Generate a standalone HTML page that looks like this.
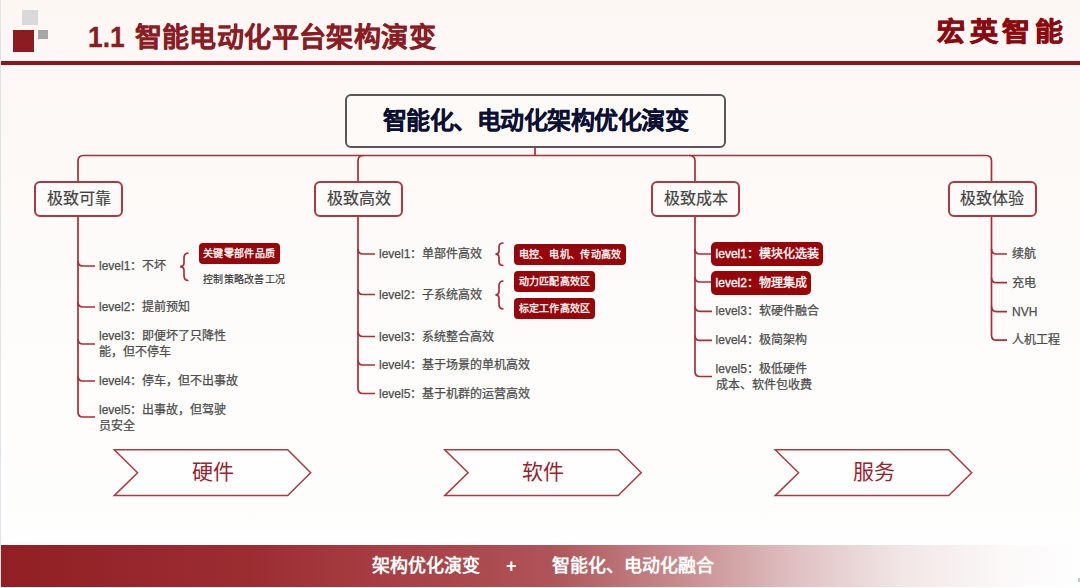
<!DOCTYPE html>
<html lang="zh-CN"><head><meta charset="utf-8">
<style>
*{margin:0;padding:0;box-sizing:border-box}
html,body{width:1080px;height:588px;overflow:hidden}
body{position:relative;font-family:"Liberation Sans",sans-serif;background:linear-gradient(to bottom,#fdf7f4 0px,#fdf9f7 150px,#fdfbf9 250px,#fefdfc 420px,#fefefe 588px)}
.a{position:absolute;white-space:nowrap}
.strip{left:0;top:0;width:1px;height:588px;background:#dfe2e6}
.sq{position:absolute}
.title{left:88px;top:19px;font-size:27px;line-height:36px;font-weight:bold;color:#8c1c24;letter-spacing:0.4px;-webkit-text-stroke:0.3px #8c1c24}
.title .n{display:inline-block;font-size:30px;transform:scaleX(0.88);transform-origin:0 50%;margin-right:-3px;letter-spacing:0}
.brand{left:937px;top:13.5px;transform:scaleY(0.93);transform-origin:50% 50%;font-size:28px;line-height:38px;font-weight:bold;color:#8a0a10;letter-spacing:4.7px;-webkit-text-stroke:0.8px #8a0a10}
.rule{left:1px;top:61px;width:1079px;height:3.6px;background:#8e171d}
.main{left:345px;top:94px;width:380.5px;height:54px;border:2px solid #585858;border-radius:6px;background:#fdfaf8;font-size:24px;letter-spacing:-0.5px;line-height:50px;font-weight:bold;color:#0c1033;-webkit-text-stroke:0.25px #0c1033;text-align:center}
.cat{top:180.5px;width:89px;height:36.5px;border:2px solid #ac3841;border-radius:6px;background:#fdfbf9;font-size:16px;line-height:32px;color:#444;text-align:center;-webkit-text-stroke:0.2px #444}
.lv{font-size:12px;line-height:16px;color:#4d4d4d;-webkit-text-stroke:0.25px #4d4d4d}
.pill{background:#980508;color:#fff;border-radius:4px;font-size:10px;letter-spacing:0.3px;line-height:21px;padding:0 4.5px;-webkit-text-stroke:0.3px #fff}
.pill2{background:#980508;color:#fff;border-radius:5px;font-size:12px;line-height:24px;padding:0 4.2px;-webkit-text-stroke:0.35px #fff}
.small{font-size:10px;letter-spacing:0.3px;line-height:14px;color:#333;-webkit-text-stroke:0.15px #333}
.chev{font-size:21px;line-height:26px;color:#952630;text-align:center;width:196px}
.banner{left:1px;top:545px;width:1079px;height:42px;background:linear-gradient(to right,#911f24 0px,#9b2d31 250px,#a84045 400px,#ae5458 550px,#b76a6e 600px,#cc9597 700px,#e0c3c5 800px,#f2e6e6 900px,#fbf8f8 1000px,#fefefe 1080px)}
.btxt{top:545px;font-size:18px;line-height:42px;font-weight:bold;color:#fff}
</style></head><body>
<div class="a strip"></div>
<div class="sq" style="left:22px;top:10px;width:16px;height:15px;background:#d9d9d9"></div>
<div class="sq" style="left:13px;top:30px;width:21px;height:21.5px;background:#8c1c22"></div>
<div class="sq" style="left:38px;top:30px;width:10px;height:9px;background:#a6a6a6"></div>
<div class="a title"><span class="n">1.1</span> 智能电动化平台架构演变</div>
<div class="a brand">宏英智能</div>
<div class="a rule"></div>

<svg class="a" style="left:0;top:0" width="1080" height="588" viewBox="0 0 1080 588">
<g fill="none" stroke="#a92e36" stroke-width="1.7">
<!-- top connector -->
<path d="M535 148 V155.5"/>
<path d="M78 181 V161 Q78 155.5 83.5 155.5 H986 Q991.5 155.5 991.5 161 V181"/>
<path d="M358 181 V161 Q358 155.5 363.5 155.5"/>

<path d="M695 181 V161 Q695 155.5 689.5 155.5"/>

<!-- col1 -->
<path d="M78 216 V412 Q78 417 83 417 H95"/>
<path d="M95 266 H83 Q78 266 78 261"/>
<path d="M95 307 H83 Q78 307 78 302"/>
<path d="M95 344 H83 Q78 344 78 339"/>
<path d="M95 381 H83 Q78 381 78 376"/>
<!-- col2 -->
<path d="M358 216 V388.5 Q358 393.5 363 393.5 H375"/>
<path d="M375 254 H363 Q358 254 358 249"/>
<path d="M375 294.5 H363 Q358 294.5 358 289.5"/>
<path d="M375 336.5 H363 Q358 336.5 358 331.5"/>
<path d="M375 365 H363 Q358 365 358 360"/>
<!-- col3 -->
<path d="M695 216 V371.5 Q695 376.5 700 376.5 H712"/>
<path d="M712 254 H700 Q695 254 695 249"/>
<path d="M712 282 H700 Q695 282 695 277"/>
<path d="M712 311.3 H700 Q695 311.3 695 306.3"/>
<path d="M712 340.4 H700 Q695 340.4 695 335.4"/>
<!-- col4 -->
<path d="M991.5 216 V335.2 Q991.5 340.2 996.5 340.2 H1007"/>
<path d="M1007 254 H996.5 Q991.5 254 991.5 249"/>
<path d="M1007 282.7 H996.5 Q991.5 282.7 991.5 277.7"/>
<path d="M1007 311.6 H996.5 Q991.5 311.6 991.5 306.6"/>
<!-- braces -->
<path d="M188.5 253 Q184 253 184 258 V263 Q184 266.5 180 266.7 Q184 267 184 270.5 V275.5 Q184 280.5 188.5 280.5"/>
<path d="M503.5 243 Q499 243 499 247 V251 Q499 254 495.5 254.2 Q499 254.4 499 257.5 V261.5 Q499 265.5 503.5 265.5"/>
<path d="M503.5 281 Q499 281 499 286 V291 Q499 294.7 495.5 294.9 Q499 295.1 499 298.8 V304 Q499 309 503.5 309"/>
</g>
<g fill="#fefefe" stroke="#ad3a42" stroke-width="1.5">
<path d="M114.2 449.8 H287.7 L310.7 472.7 L287.7 495.6 H114.2 L137.6 472.7 Z"/>
<path d="M444.7 449.8 H618.2 L641.2 472.7 L618.2 495.6 H444.7 L468.1 472.7 Z"/>
<path d="M775.2 449.8 H948.7 L971.7 472.7 L948.7 495.6 H775.2 L798.6 472.7 Z"/>
</g>
</svg>

<div class="a main">智能化、电动化架构优化演变</div>
<div class="a cat" style="left:34px">极致可靠</div>
<div class="a cat" style="left:314px">极致高效</div>
<div class="a cat" style="left:651px">极致成本</div>
<div class="a cat" style="left:947.5px">极致体验</div>

<!-- col1 -->
<div class="a lv" style="left:99px;top:258px">level1：不坏</div>
<div class="a pill" style="left:198.6px;top:242.5px">关键零部件品质</div>
<div class="a small" style="left:203px;top:272.5px">控制策略改善工况</div>
<div class="a lv" style="left:99px;top:299px">level2：提前预知</div>
<div class="a lv" style="left:99px;top:328px">level3：即便坏了只降性<br>能，但不停车</div>
<div class="a lv" style="left:99px;top:373px">level4：停车，但不出事故</div>
<div class="a lv" style="left:99px;top:401.5px">level5：出事故，但驾驶<br>员安全</div>

<!-- col2 -->
<div class="a lv" style="left:379px;top:246px">level1：单部件高效</div>
<div class="a pill" style="left:514px;top:243.6px">电控、电机、传动高效</div>
<div class="a lv" style="left:379px;top:286.5px">level2：子系统高效</div>
<div class="a pill" style="left:514px;top:271.3px">动力匹配高效区</div>
<div class="a pill" style="left:514px;top:298px">标定工作高效区</div>
<div class="a lv" style="left:379px;top:328.5px">level3：系统整合高效</div>
<div class="a lv" style="left:379px;top:357px">level4：基于场景的单机高效</div>
<div class="a lv" style="left:379px;top:385.5px">level5：基于机群的运营高效</div>

<!-- col3 -->
<div class="a pill2" style="left:711.4px;top:242.2px">level1：模块化选装</div>
<div class="a pill2" style="left:711.4px;top:270.8px">level2：物理集成</div>
<div class="a lv" style="left:715.6px;top:303.3px">level3：软硬件融合</div>
<div class="a lv" style="left:715.6px;top:332.4px">level4：极简架构</div>
<div class="a lv" style="left:715.6px;top:361px">level5：极低硬件<br>成本、软件包收费</div>

<!-- col4 -->
<div class="a lv" style="left:1012px;top:246px">续航</div>
<div class="a lv" style="left:1012px;top:274.7px">充电</div>
<div class="a lv" style="left:1012px;top:303.6px">NVH</div>
<div class="a lv" style="left:1012px;top:332.2px">人机工程</div>

<div class="a chev" style="left:114.5px;top:459px">硬件</div>
<div class="a chev" style="left:445px;top:459px">软件</div>
<div class="a chev" style="left:775.5px;top:459px">服务</div>

<div class="a banner"></div>
<div class="a btxt" style="left:372px">架构优化演变</div>
<div class="a btxt" style="left:506px">+</div>
<div class="a btxt" style="left:552px">智能化、电动化融合</div>
<div class="a" style="left:1078px;top:578px;width:2px;height:4px;background:#9aa6b8;opacity:.6"></div>
</body></html>
